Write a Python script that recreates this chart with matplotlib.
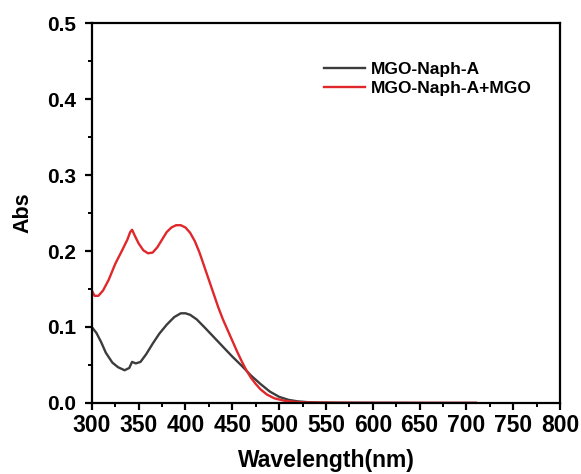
import matplotlib
matplotlib.use("Agg")
import matplotlib.pyplot as plt
import numpy as np

plt.rcParams['font.family'] = ['Liberation Sans', 'DejaVu Sans']
plt.rcParams['font.weight'] = 'bold'

# MGO-Naph-A (black)
wl_a = [300, 305, 310, 315, 322, 328, 335, 340, 343, 347, 352, 358, 365, 372, 380, 388, 395, 400, 405, 412, 420, 430, 440, 450, 460, 470, 480, 490, 500, 510, 520, 530, 540, 560, 600, 650, 710]
abs_a = [0.100, 0.092, 0.080, 0.066, 0.053, 0.047, 0.043, 0.046, 0.054, 0.052, 0.054, 0.064, 0.078, 0.091, 0.103, 0.113, 0.118, 0.118, 0.116, 0.110, 0.100, 0.087, 0.074, 0.061, 0.049, 0.036, 0.025, 0.015, 0.008, 0.004, 0.002, 0.001, 0.0005, 0.0002, 0.0001, 0.0, 0.0]

# MGO-Naph-A+MGO (red)
wl_b = [300, 303, 307, 312, 318, 325, 332, 338, 341, 343, 346, 350, 355, 360, 365, 370, 375, 380, 385, 390, 395, 400, 405, 410, 415, 420, 425, 430, 435, 440, 445, 450, 455, 460, 465, 470, 475, 480, 487, 495, 505, 515, 525, 540, 560, 600, 650, 710]
abs_b = [0.148, 0.141, 0.141, 0.148, 0.162, 0.183, 0.200, 0.215, 0.225, 0.228, 0.220, 0.210, 0.201, 0.197, 0.198, 0.205, 0.215, 0.225, 0.231, 0.234, 0.234, 0.231, 0.224, 0.213, 0.198, 0.180, 0.162, 0.144, 0.126, 0.110, 0.096, 0.082, 0.068, 0.055, 0.043, 0.033, 0.025, 0.018, 0.011, 0.006, 0.003, 0.0015, 0.0008, 0.0004, 0.0002, 0.0001, 0.0, 0.0]

labels = ['MGO-Naph-A', 'MGO-Naph-A+MGO']
colors = ['#3c3c3c', '#e0272b']

fig = plt.figure(figsize=(5.81, 4.74), dpi=100)
ax = fig.add_axes([0.158, 0.150, 0.806, 0.801])

ax.plot(wl_a, abs_a, color=colors[0], lw=1.7, label=labels[0])
ax.plot(wl_b, abs_b, color=colors[1], lw=1.7, label=labels[1])

ax.set_xlim(300, 800)
ax.set_ylim(0, 0.5)
ax.set_xticks(np.arange(300, 801, 50))
ax.set_yticks([0.0, 0.1, 0.2, 0.3, 0.4, 0.5])
ax.set_yticklabels(['0.0', '0.1', '0.2', '0.3', '0.4', '0.5'])
ax.set_xticks(np.arange(325, 800, 50), minor=True)
ax.set_yticks(np.arange(0.05, 0.5, 0.1), minor=True)

for s in ax.spines.values():
    s.set_linewidth(1.6)
ax.tick_params(axis='both', which='major', direction='out', length=5, width=1.6,
               top=False, right=False)
ax.tick_params(axis='x', which='major', labelsize=16.5, pad=3)
ax.tick_params(axis='y', which='major', labelsize=15, pad=6)
ax.tick_params(axis='both', which='minor', direction='out', length=3, width=1.4,
               top=False, right=False)
for t in ax.get_xticklabels() + ax.get_yticklabels():
    t.set_fontweight('bold')

ax.set_xlabel('Wavelength(nm)', fontsize=16.5, fontweight='bold', labelpad=8.5)
ax.set_ylabel('Abs', fontsize=15.5, fontweight='bold', labelpad=10)

leg = ax.legend(loc='upper right', bbox_to_anchor=(0.972, 0.94), frameon=False,
                prop={'size': 12.5, 'weight': 'bold'}, handlelength=2.4,
                handletextpad=0.3, labelspacing=0.25)

fig.savefig('out.png', dpi=100)
